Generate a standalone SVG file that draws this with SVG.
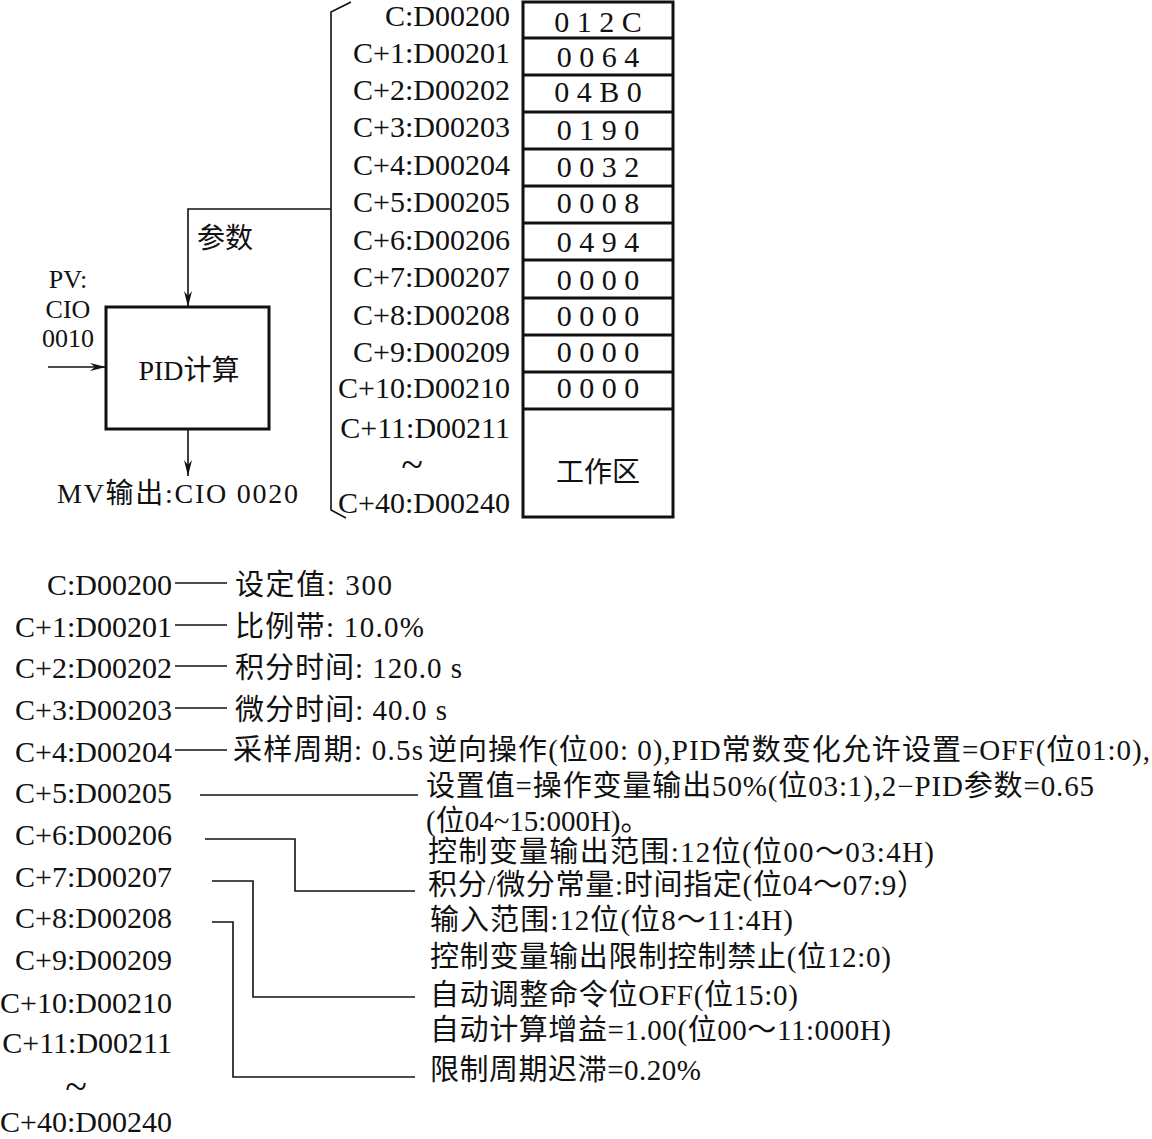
<svg xmlns="http://www.w3.org/2000/svg" width="1152" height="1139" viewBox="0 0 1152 1139">
<style>
text{font-family:"Liberation Serif","Noto Sans CJK SC",serif;fill:#111;}
.lb{font-size:30px;text-anchor:end;}
.pv{font-size:26px;text-anchor:middle;}
.val{font-size:30px;text-anchor:middle;}
.ds{font-size:29px;}
.cn{font-size:28px;}
.thick{fill:none;stroke:#111;stroke-width:3;}
.ln{fill:none;stroke:#111;stroke-width:1.6;}
</style>
<defs>
<marker id="arr" viewBox="0 0 16 8" refX="16" refY="4" markerWidth="16" markerHeight="8" markerUnits="userSpaceOnUse" orient="auto">
<path d="M0,0 L16,4 L0,8 L5,4 Z" fill="#111"/>
</marker>
</defs>
<rect width="1152" height="1139" fill="#fff"/>

<g id="connectors">
<polyline class="ln" points="331,209 188,209 188,307" marker-end="url(#arr)"/>
<line class="ln" x1="48" y1="367" x2="106" y2="367" marker-end="url(#arr)"/>
<line class="ln" x1="188" y1="429" x2="188" y2="476" marker-end="url(#arr)"/>
<polyline class="ln" points="351,2 331,12 331,510 346,518"/>
<line class="ln" x1="175" y1="583" x2="227" y2="583"/>
<line class="ln" x1="175" y1="625" x2="227" y2="625"/>
<line class="ln" x1="175" y1="666" x2="227" y2="666"/>
<line class="ln" x1="175" y1="708" x2="227" y2="708"/>
<line class="ln" x1="175" y1="750" x2="227" y2="750"/>
<line class="ln" x1="200" y1="795" x2="418" y2="795"/>
<polyline class="ln" points="205,839 295,839 295,891 415,891"/>
<polyline class="ln" points="212,881 253,881 253,997 415,997"/>
<polyline class="ln" points="212,922 233,922 233,1077 415,1077"/>
</g>

<g id="pid-box">
<rect class="thick" x="106" y="307" width="163" height="122"/>
<text class="cn" x="189" y="380" text-anchor="middle">PID计算</text>
</g>
<g id="param-label"><text class="cn" x="197" y="248">参数</text></g>
<g id="pv-label">
<text class="pv" x="68" y="288">PV:</text>
<text class="pv" x="68" y="317.5">CIO</text>
<text class="pv" x="68" y="347">0010</text>
</g>
<g id="mv-label"><text class="cn" x="57" y="503" textLength="241">MV输出:CIO 0020</text></g>

<g id="memory-table">
<rect class="thick" x="523" y="2" width="150" height="515"/>
<path class="thick" d="M523,38H673M523,75H673M523,112H673M523,149H673M523,186H673M523,223H673M523,260H673M523,298H673M523,335H673M523,372H673M523,409H673"/>
<text class="val" x="598" y="32">0 1 2 C</text>
<text class="val" x="598" y="67">0 0 6 4</text>
<text class="val" x="598" y="102">0 4 B 0</text>
<text class="val" x="598" y="140">0 1 9 0</text>
<text class="val" x="598" y="177">0 0 3 2</text>
<text class="val" x="598" y="213">0 0 0 8</text>
<text class="val" x="598" y="252">0 4 9 4</text>
<text class="val" x="598" y="290">0 0 0 0</text>
<text class="val" x="598" y="326">0 0 0 0</text>
<text class="val" x="598" y="362">0 0 0 0</text>
<text class="val" x="598" y="398">0 0 0 0</text>
<text class="cn" x="598" y="482" text-anchor="middle">工作区</text>
</g>

<g id="table-labels">
<text class="lb" x="510" y="26">C:D00200</text>
<text class="lb" x="510" y="63">C+1:D00201</text>
<text class="lb" x="510" y="100">C+2:D00202</text>
<text class="lb" x="510" y="137">C+3:D00203</text>
<text class="lb" x="510" y="175">C+4:D00204</text>
<text class="lb" x="510" y="212">C+5:D00205</text>
<text class="lb" x="510" y="250">C+6:D00206</text>
<text class="lb" x="510" y="287">C+7:D00207</text>
<text class="lb" x="510" y="325">C+8:D00208</text>
<text class="lb" x="510" y="362">C+9:D00209</text>
<text class="lb" x="510" y="398">C+10:D00210</text>
<text class="lb" x="510" y="438">C+11:D00211</text>
<text x="412" y="478" style="font-size:40px;text-anchor:middle">~</text>
<text class="lb" x="510" y="513">C+40:D00240</text>
</g>

<g id="list-labels">
<text class="lb" x="172" y="595">C:D00200</text>
<text class="lb" x="172" y="637">C+1:D00201</text>
<text class="lb" x="172" y="678">C+2:D00202</text>
<text class="lb" x="172" y="720">C+3:D00203</text>
<text class="lb" x="172" y="762">C+4:D00204</text>
<text class="lb" x="172" y="803">C+5:D00205</text>
<text class="lb" x="172" y="845">C+6:D00206</text>
<text class="lb" x="172" y="887">C+7:D00207</text>
<text class="lb" x="172" y="928">C+8:D00208</text>
<text class="lb" x="172" y="970">C+9:D00209</text>
<text class="lb" x="172" y="1013">C+10:D00210</text>
<text class="lb" x="172" y="1053">C+11:D00211</text>
<text x="76" y="1100" style="font-size:40px;text-anchor:middle">~</text>
<text class="lb" x="172" y="1132">C+40:D00240</text>
</g>

<g id="list-descriptions">
<text class="ds" x="235" y="595" textLength="157">设定值: 300</text>
<text class="ds" x="235" y="637" textLength="189">比例带: 10.0%</text>
<text class="ds" x="235" y="678" textLength="227">积分时间: 120.0 s</text>
<text class="ds" x="235" y="720" textLength="212">微分时间: 40.0 s</text>
<text class="ds" x="233" y="760" textLength="190">采样周期: 0.5s</text>
<text class="ds" x="428" y="760" textLength="722">逆向操作(位00: 0),PID常数变化允许设置=OFF(位01:0),</text>
<text class="ds" x="426" y="796" textLength="668">设置值=操作变量输出50%(位03:1),2−PID参数=0.65</text>
<text class="ds" x="426" y="831">(位04~15:000H)。</text>
<text class="ds" x="428" y="862" textLength="506">控制变量输出范围:12位(位00～03:4H)</text>
<text class="ds" x="428" y="895" textLength="498">积分/微分常量:时间指定(位04～07:9）</text>
<text class="ds" x="430" y="930" textLength="363">输入范围:12位(位8～11:4H)</text>
<text class="ds" x="430" y="967" textLength="461">控制变量输出限制控制禁止(位12:0)</text>
<text class="ds" x="430" y="1005" textLength="368">自动调整命令位OFF(位15:0)</text>
<text class="ds" x="430" y="1040" textLength="461">自动计算增益=1.00(位00～11:000H)</text>
<text class="ds" x="430" y="1080" textLength="271">限制周期迟滞=0.20%</text>
</g>
</svg>
